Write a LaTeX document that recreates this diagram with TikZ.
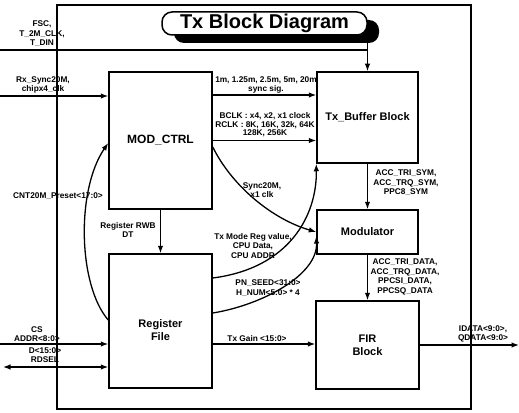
\documentclass[tikz,border=0pt]{standalone}
\usepackage{fontspec}
\setmainfont{Liberation Sans}
\usetikzlibrary{arrows.meta,shadows}
\begin{document}
\begin{tikzpicture}[x=1pt,y=-1pt,
  blk/.style={draw,line width=1.5pt,inner sep=0pt,font=\fontsize{11}{13}\selectfont\bfseries,align=center},
  lbl/.style={inner sep=0pt,font=\fontsize{8.3}{9.5}\selectfont\bfseries,align=center},
  wire/.style={line width=1.3pt},
  arr/.style={wire,-{Latex[length=7.5pt,width=5.5pt]}},
  darr/.style={wire,{Latex[length=7.5pt,width=5.5pt]}-{Latex[length=7.5pt,width=5.5pt]}},
]
\useasboundingbox (0,0) rectangle (519,412);
% outer frame
\node[draw,line width=1.1pt,minimum width=414pt,minimum height=404pt,inner sep=0pt] (frame) at (264,207) {};
% title
\node[draw,line width=1.5pt,rounded corners=10pt,fill=white,minimum width=205pt,minimum height=23pt,inner sep=0pt,
  font=\fontsize{20}{24}\selectfont\bfseries,
  drop shadow={shadow xshift=12pt,shadow yshift=-8pt,opacity=1,fill=black}] (title) at (264.5,23.5) {Tx Block Diagram};
% blocks
\node[blk,minimum width=103pt,minimum height=137pt,font=\fontsize{12}{14}\selectfont\bfseries] (modctrl) at (160.5,140.5) {MOD\_CTRL};
\node[blk,minimum width=101pt,minimum height=91pt] (buf) at (367.5,117.5) {Tx\_Buffer Block};
\node[blk,minimum width=101pt,minimum height=44pt] (mod) at (367.5,232) {Modulator};
\node[blk,minimum width=103pt,minimum height=88pt] (fir) at (367.5,345) {FIR\\Block};
\node[blk,minimum width=103pt,minimum height=134pt] (reg) at (160.5,321) {};
\node[blk,draw=none] (regtxt) at (160.5,330) {Register\\File};
% coordinates for free ends
\coordinate (fscin) at (0,50);
\coordinate (titlebot) at (367.5,43);
\coordinate (rxin) at (0,96);
\coordinate (csin) at (0,344);
\coordinate (din) at (3,367);
\coordinate (out) at (519,345);
\coordinate (m1) at ([yshift=45.5pt]modctrl.east);
\coordinate (tg) at ([yshift=-23pt]reg.east);
% connectors
\draw[wire] (fscin) -- (fscin -| buf.north);
\draw[arr] (titlebot) -- (buf.north);
\draw[arr] (rxin) -- (rxin -| modctrl.west);
\draw[arr] (m1) -- (m1 -| buf.west);
\draw[arr] (modctrl.east) -- (modctrl.east -| buf.west);
\draw[arr] ([yshift=-6.5pt]modctrl.east) .. controls (232,186) and (272,219) .. (mod.west);
\draw[arr] ([yshift=43pt]reg.east) .. controls (290,268) and (317,215) .. (buf.south west);
\draw[arr] ([yshift=8pt]reg.east) .. controls (262,305) and (318,275) .. ([yshift=-4pt]mod.west);
\draw[arr] ([yshift=1pt]reg.west) .. controls (78,285) and (76,190) .. ([yshift=-2.5pt]modctrl.west);
\draw[arr] (modctrl.south) -- (reg.north);
\draw[arr] (csin) -- (csin -| reg.west);
\draw[darr] (din) -- (din -| reg.west);
\draw[arr] (tg) -- (tg -| fir.west);
\draw[arr] (buf.south) -- (mod.north);
\draw[arr] (mod.south) -- (fir.north);
\draw[arr] (fir.east) -- (out);
% labels
\node[lbl] (fsclbl) at (42,34) {FSC,\\T\_2M\_CLK,\\T\_DIN};
\node[lbl] (rxlbl) at (43,85) {Rx\_Sync20M,\\chipx4\_clk};
\node[lbl] (synclbl) at (266,85) {1m, 1.25m, 2.5m, 5m, 20m\\sync sig.};
\node[lbl,font=\fontsize{8.3}{8.5}\selectfont\bfseries] (clklbl) at (265,125) {BCLK : x4, x2, x1 clock\\RCLK : 8K, 16K, 32k, 64K\\128K, 256K};
\node[lbl] (s20lbl) at (262,190) {Sync20M,\\x1 clk};
\node[lbl] (cntlbl) at (58,196) {CNT20M\_Preset<17:0>};
\node[lbl] (rwblbl) at (128,230) {Register RWB\\DT};
\node[lbl] (txmlbl) at (253,246) {Tx Mode Reg value,\\CPU Data,\\CPU ADDR};
\node[lbl] (pnlbl) at (268,288) {PN\_SEED<31:0>\\H\_NUM<5:0> * 4};
\node[lbl] (tglbl) at (257,339) {Tx Gain <15:0>};
\node[lbl] (cslbl) at (37,334) {CS\\ADDR<8:0>};
\node[lbl] (dlbl) at (45,355) {D<15:0>\\RDSEL};
\node[lbl] (symlbl) at (406,183) {ACC\_TRI\_SYM,\\ACC\_TRQ\_SYM,\\PPC8\_SYM};
\node[lbl] (datalbl) at (405,277) {ACC\_TRI\_DATA,\\ACC\_TRQ\_DATA,\\PPCSI\_DATA,\\PPCSQ\_DATA};
\node[lbl] (outlbl) at (483,334) {IDATA<9:0>,\\QDATA<9:0>};
\end{tikzpicture}
\end{document}
